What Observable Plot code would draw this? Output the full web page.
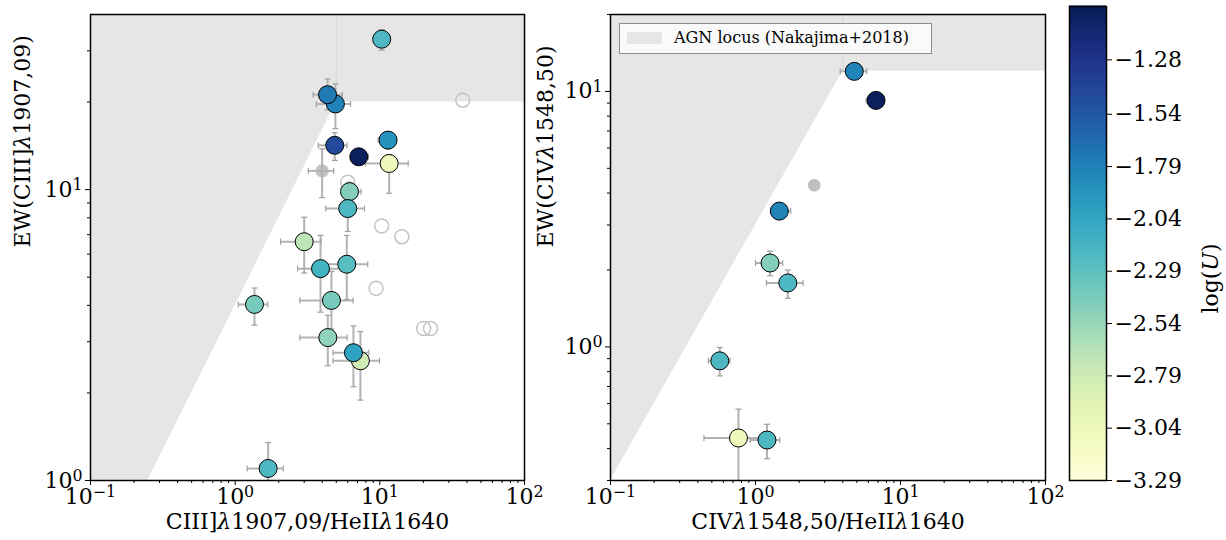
<!DOCTYPE html>
<html><head><meta charset="utf-8">
<script src="https://cdn.jsdelivr.net/npm/d3@7"></script>
<script src="https://cdn.jsdelivr.net/npm/@observablehq/plot@0.6"></script>
<style>
body{margin:0;background:#fff;}
#wrap{position:relative;width:1226px;height:540px;font-family:"DejaVu Serif",serif;overflow:hidden;}
#legend{position:absolute;left:619px;top:23px;width:313px;height:31px;box-sizing:border-box;border:1px solid #8c8c8c;background:rgba(255,255,255,0.8);font-family:"DejaVu Serif",serif;font-size:16px;}
#legend .sw{position:absolute;left:7px;top:8px;width:35px;height:12px;background:#e6e6e6;}
#legend .tx{position:absolute;left:54px;top:4px;white-space:nowrap;color:#000;}
</style></head><body><div id="wrap"><div id="legend"><div class="sw"></div><div class="tx">AGN locus (Nakajima+2018)</div></div></div>
<script>
// ---------- Left panel: CIII] ----------
const c3Ratio = [10.3, 4.93, 4.35, 11.4, 4.88, 7.15, 11.6, 6.17, 6.0, 3.0, 3.89, 5.91, 4.63, 1.36, 4.37, 7.34, 6.57, 1.69];
const c3EW    = [32.9, 19.7, 21.2, 14.8, 14.2, 12.97, 12.3, 9.84, 8.61, 6.62, 5.35, 5.54, 4.16, 4.03, 3.10, 2.58, 2.75, 1.10];
const c3RatioLo = [10.3, 3.63, 3.46, 9.73, 3.75, 6.37, 7.95, 5.54, 4.23, 2.06, 2.70, 4.21, 2.80, 1.05, 2.80, 4.75, 4.75, 1.21];
const c3RatioHi = [10.3, 6.27, 5.51, 13.0, 5.94, 8.34, 15.7, 7.43, 7.83, 3.93, 5.34, 8.25, 6.54, 1.68, 5.94, 9.94, 8.38, 2.15];
const c3EWLo  = [30.2, 16.2, 18.8, 13.8, 12.6, 12.5, 9.71, 9.17, 7.18, 5.17, 3.79, 4.19, 3.32, 3.42, 2.48, 1.89, 2.10, 0.9];
const c3EWHi  = [35.5, 23.1, 24.0, 15.8, 15.7, 13.4, 13.2, 10.6, 9.24, 8.04, 6.96, 6.96, 5.24, 4.59, 3.70, 3.25, 3.40, 1.35];
const c3LogU  = [-2.2, -1.8, -1.75, -1.9, -1.45, -1.05, -3.05, -2.45, -2.2, -2.7, -2.15, -2.25, -2.4, -2.4, -2.5, -2.8, -2.0, -2.2];
// grey comparison objects (open circles)
const c3OpenRatio = [37.4, 6.0, 10.3, 14.2, 9.42, 20.1, 22.4];
const c3OpenEW    = [20.3, 10.6, 7.5, 6.89, 4.58, 3.33, 3.33];
// grey filled object
const c3GreyRatio = [3.99], c3GreyEW = [11.6];
const c3GreyRatioLo = [3.20], c3GreyRatioHi = [4.80], c3GreyEWLo = [9.39], c3GreyEWHi = [13.8];
// AGN locus boundary
const agn3X = [0.1, 0.25, 5, 100];
const agn3Lo = [1, 1, 20, 20];
const c3YDomain = [1, 40];

// ---------- Right panel: CIV ----------
const c4Ratio = [4.80, 6.78, 1.46, 1.26, 1.67, 0.567, 0.763, 1.20];
const c4EW    = [11.98, 9.22, 3.40, 2.13, 1.78, 0.882, 0.440, 0.432];
const c4RatioLo = [3.84, 5.8, 1.28, 1.0, 1.19, 0.473, 0.441, 0.918];
const c4RatioHi = [5.85, 7.7, 1.75, 1.54, 2.13, 0.667, 1.09, 1.47];
const c4EWLo  = [11.7, 9.0, 3.3, 1.90, 1.55, 0.770, 0.28, 0.365];
const c4EWHi  = [12.3, 9.45, 3.5, 2.37, 2.00, 0.995, 0.571, 0.498];
const c4LogU  = [-1.8, -1.05, -1.8, -2.45, -2.2, -2.2, -3.05, -2.2];
const c4GreyRatio = [2.54], c4GreyEW = [4.29];
const agn4X = [0.1, 4, 100];
const agn4Lo = [0.3, 12, 12];
const c4YDomain = [0.3, 20];

// ---------- axes / colorbar ----------
const xDomain = [0.1, 100];
const xMajor = [0.1, 1, 10, 100];
const xMinor = [0.2,0.3,0.4,0.5,0.6,0.7,0.8,0.9,2,3,4,5,6,7,8,9,20,30,40,50,60,70,80,90];
const y3Major = [1, 10];
const y3Minor = [2,3,4,5,6,7,8,9,20,30];
const y4Major = [1, 10];
const y4Minor = [0.3,0.4,0.5,0.6,0.7,0.8,0.9,2,3,4,5,6,7,8,9,20];
const cbDomain = [-3.29, -1.025];
const cbTicks = [-3.29, -3.04, -2.79, -2.54, -2.29, -2.04, -1.79, -1.54, -1.28];

const xLabel3 = "CIII]λ1907,09/HeIIλ1640";
const yLabel3 = "EW(CIII]λ1907,09)";
const xLabel4 = "CIVλ1548,50/HeIIλ1640";
const yLabel4 = "EW(CIVλ1548,50)";
const cbLabel = "log(U)";

const shade = "#e6e6e6";
const errColor = "#b3b3b3";
const colorScale = {type: "linear", scheme: "ylgnbu", domain: cbDomain};

const vbar = {draw(ctx, size){ const r = Math.sqrt(size / Math.PI); ctx.moveTo(0, -r); ctx.lineTo(0, r); }};
const hbar = {draw(ctx, size){ const r = Math.sqrt(size / Math.PI); ctx.moveTo(-r, 0); ctx.lineTo(r, 0); }};
const powFmt = d => "10^" + Math.round(Math.log10(d));
const noFmt = () => "";

function rows(x, y, xlo, xhi, ylo, yhi, u) {
  return x.map((v, i) => ({x: v, y: y[i], xlo: xlo ? xlo[i] : v, xhi: xhi ? xhi[i] : v,
    ylo: ylo ? ylo[i] : y[i], yhi: yhi ? yhi[i] : y[i], u: u ? u[i] : null}));
}
function errMarks(data) {
  return [
    Plot.link(data, {x1: "xlo", x2: "xhi", y1: "y", y2: "y", stroke: errColor, strokeWidth: 2, clip: true}),
    Plot.link(data, {x1: "x", x2: "x", y1: "ylo", y2: "yhi", stroke: errColor, strokeWidth: 2, clip: true}),
    Plot.dot(data, {x: "xlo", y: "y", symbol: vbar, r: 3, stroke: "#a0a0a0", strokeWidth: 1.2, clip: true}),
    Plot.dot(data, {x: "xhi", y: "y", symbol: vbar, r: 3, stroke: "#a0a0a0", strokeWidth: 1.2, clip: true}),
    Plot.dot(data, {x: "x", y: "ylo", symbol: hbar, r: 3, stroke: "#a0a0a0", strokeWidth: 1.2, clip: true}),
    Plot.dot(data, {x: "x", y: "yhi", symbol: hbar, r: 3, stroke: "#a0a0a0", strokeWidth: 1.2, clip: true})
  ];
}
function axes(yMajor, yMinor, xLabel, yLabel, yLabelDx) {
  return [
    Plot.axisX({ticks: xMajor, tickFormat: powFmt, tickSize: 5, tickPadding: 3, label: null, fontSize: 22}),
    Plot.axisX({ticks: xMinor, tickFormat: noFmt, tickSize: 3, label: null}),
    Plot.axisY({ticks: yMajor, tickFormat: powFmt, tickSize: 5, tickPadding: 3, label: null, fontSize: 22}),
    Plot.axisY({ticks: yMinor, tickFormat: noFmt, tickSize: 3, label: null}),
    Plot.text([xLabel], {frameAnchor: "bottom", dy: 48, text: d => d, fontSize: 22}),
    Plot.text([yLabel], {frameAnchor: "left", dx: yLabelDx, rotate: -90, text: d => d, fontSize: 22}),
    Plot.frame({stroke: "black", strokeWidth: 1.5})
  ];
}
const baseStyle = {fontFamily: "DejaVu Serif", fontSize: "22px", background: "transparent", overflow: "visible", color: "black"};

// Left plot
const c3 = rows(c3Ratio, c3EW, c3RatioLo, c3RatioHi, c3EWLo, c3EWHi, c3LogU);
const c3Grey = rows(c3GreyRatio, c3GreyEW, c3GreyRatioLo, c3GreyRatioHi, c3GreyEWLo, c3GreyEWHi);
const c3Open = rows(c3OpenRatio, c3OpenEW);
const agn3 = agn3X.map((x, i) => ({x, lo: agn3Lo[i], hi: c3YDomain[1]}));
const left = Plot.plot({
  width: 530, height: 540, marginLeft: 90, marginRight: 6, marginTop: 14, marginBottom: 60,
  style: baseStyle,
  x: {type: "log", domain: xDomain},
  y: {type: "log", domain: c3YDomain},
  color: colorScale,
  marks: [
    Plot.areaY(agn3, {x: "x", y1: "lo", y2: "hi", fill: shade, clip: true}),
    Plot.ruleX([agn3X[2]], {y1: agn3Lo[2], y2: c3YDomain[1], stroke: "#d4d4d4", strokeWidth: 1}),
    Plot.dot(c3Open, {x: "x", y: "y", r: 7, stroke: "#c4c4c4", strokeWidth: 1.5, fill: "none"}),
    Plot.dot(c3Grey, {x: "x", y: "y", r: 6.7, fill: "#999999", fillOpacity: 0.6}),
    ...errMarks(c3Grey),
    ...errMarks(c3),
    Plot.dot(c3, {x: "x", y: "y", r: 9, fill: "u", stroke: "black", strokeWidth: 1}),
    ...axes(y3Major, y3Minor, xLabel3, yLabel3, -68)
  ]
});

// Right plot
const c4 = rows(c4Ratio, c4EW, c4RatioLo, c4RatioHi, c4EWLo, c4EWHi, c4LogU);
const c4Grey = rows(c4GreyRatio, c4GreyEW);
const agn4 = agn4X.map((x, i) => ({x, lo: agn4Lo[i], hi: c4YDomain[1]}));
const right = Plot.plot({
  width: 520, height: 540, marginLeft: 80, marginRight: 5, marginTop: 14, marginBottom: 60,
  style: baseStyle,
  x: {type: "log", domain: xDomain},
  y: {type: "log", domain: c4YDomain},
  color: colorScale,
  marks: [
    Plot.areaY(agn4, {x: "x", y1: "lo", y2: "hi", fill: shade, clip: true}),
    Plot.ruleX([agn4X[1]], {y1: agn4Lo[1], y2: c4YDomain[1], stroke: "#d4d4d4", strokeWidth: 1}),
    Plot.dot(c4Grey, {x: "x", y: "y", r: 6.3, fill: "#b0b0b0", fillOpacity: 0.8}),
    ...errMarks(c4),
    Plot.dot(c4, {x: "x", y: "y", r: 9, fill: "u", stroke: "black", strokeWidth: 1}),
    ...axes(y4Major, y4Minor, xLabel4, yLabel4, -65)
  ]
});

// Colorbar
const nSteps = 240;
const cbSlices = d3.range(nSteps).map(i => {
  const a = cbDomain[0] + (cbDomain[1] - cbDomain[0]) * i / nSteps;
  const b = cbDomain[0] + (cbDomain[1] - cbDomain[0]) * (i + 1) / nSteps;
  return {a, b, m: (a + b) / 2};
});
const cbar = Plot.plot({
  width: 176, height: 540, marginLeft: 19, marginRight: 120, marginTop: 6, marginBottom: 60,
  style: baseStyle,
  y: {domain: cbDomain},
  color: colorScale,
  marks: [
    Plot.rect(cbSlices, {y1: "a", y2: "b", fill: "m", inset: 0, insetTop: -0.5, insetBottom: -0.5}),
    Plot.axisY({anchor: "right", ticks: cbTicks, tickSize: 5, tickPadding: 3, label: null, fontSize: 22,
      tickFormat: d => "\u2212" + Math.abs(d).toFixed(2)}),
    Plot.text([cbLabel], {frameAnchor: "right", dx: 104, rotate: -90, text: d => d, fontSize: 22}),
    Plot.frame({stroke: "black", strokeWidth: 1.5})
  ]
});

const wrap = document.getElementById("wrap");
[[left, 0], [right, 530], [cbar, 1050]].forEach(([svg, x]) => {
  svg.style.position = "absolute";
  svg.style.left = x + "px";
  svg.style.top = "0px";
  svg.style.maxWidth = "none";
  svg.querySelectorAll("text").forEach(t => {
    const s = t.textContent;
    if (/^10\^/.test(s)) {
      const e = s.slice(3).replace("-", "\u2212");
      t.innerHTML = `10<tspan dy="-0.42em" font-size="0.72em">${e}</tspan>`;
    } else if (s.includes("λ")) {
      t.innerHTML = s.replace(/λ/g, '<tspan font-style="italic">λ</tspan>');
    } else if (s === "log(U)") {
      t.innerHTML = 'log(<tspan font-style="italic">U</tspan>)';
    }
  });
  wrap.insertBefore(svg, document.getElementById("legend"));
});
</script></body></html>
